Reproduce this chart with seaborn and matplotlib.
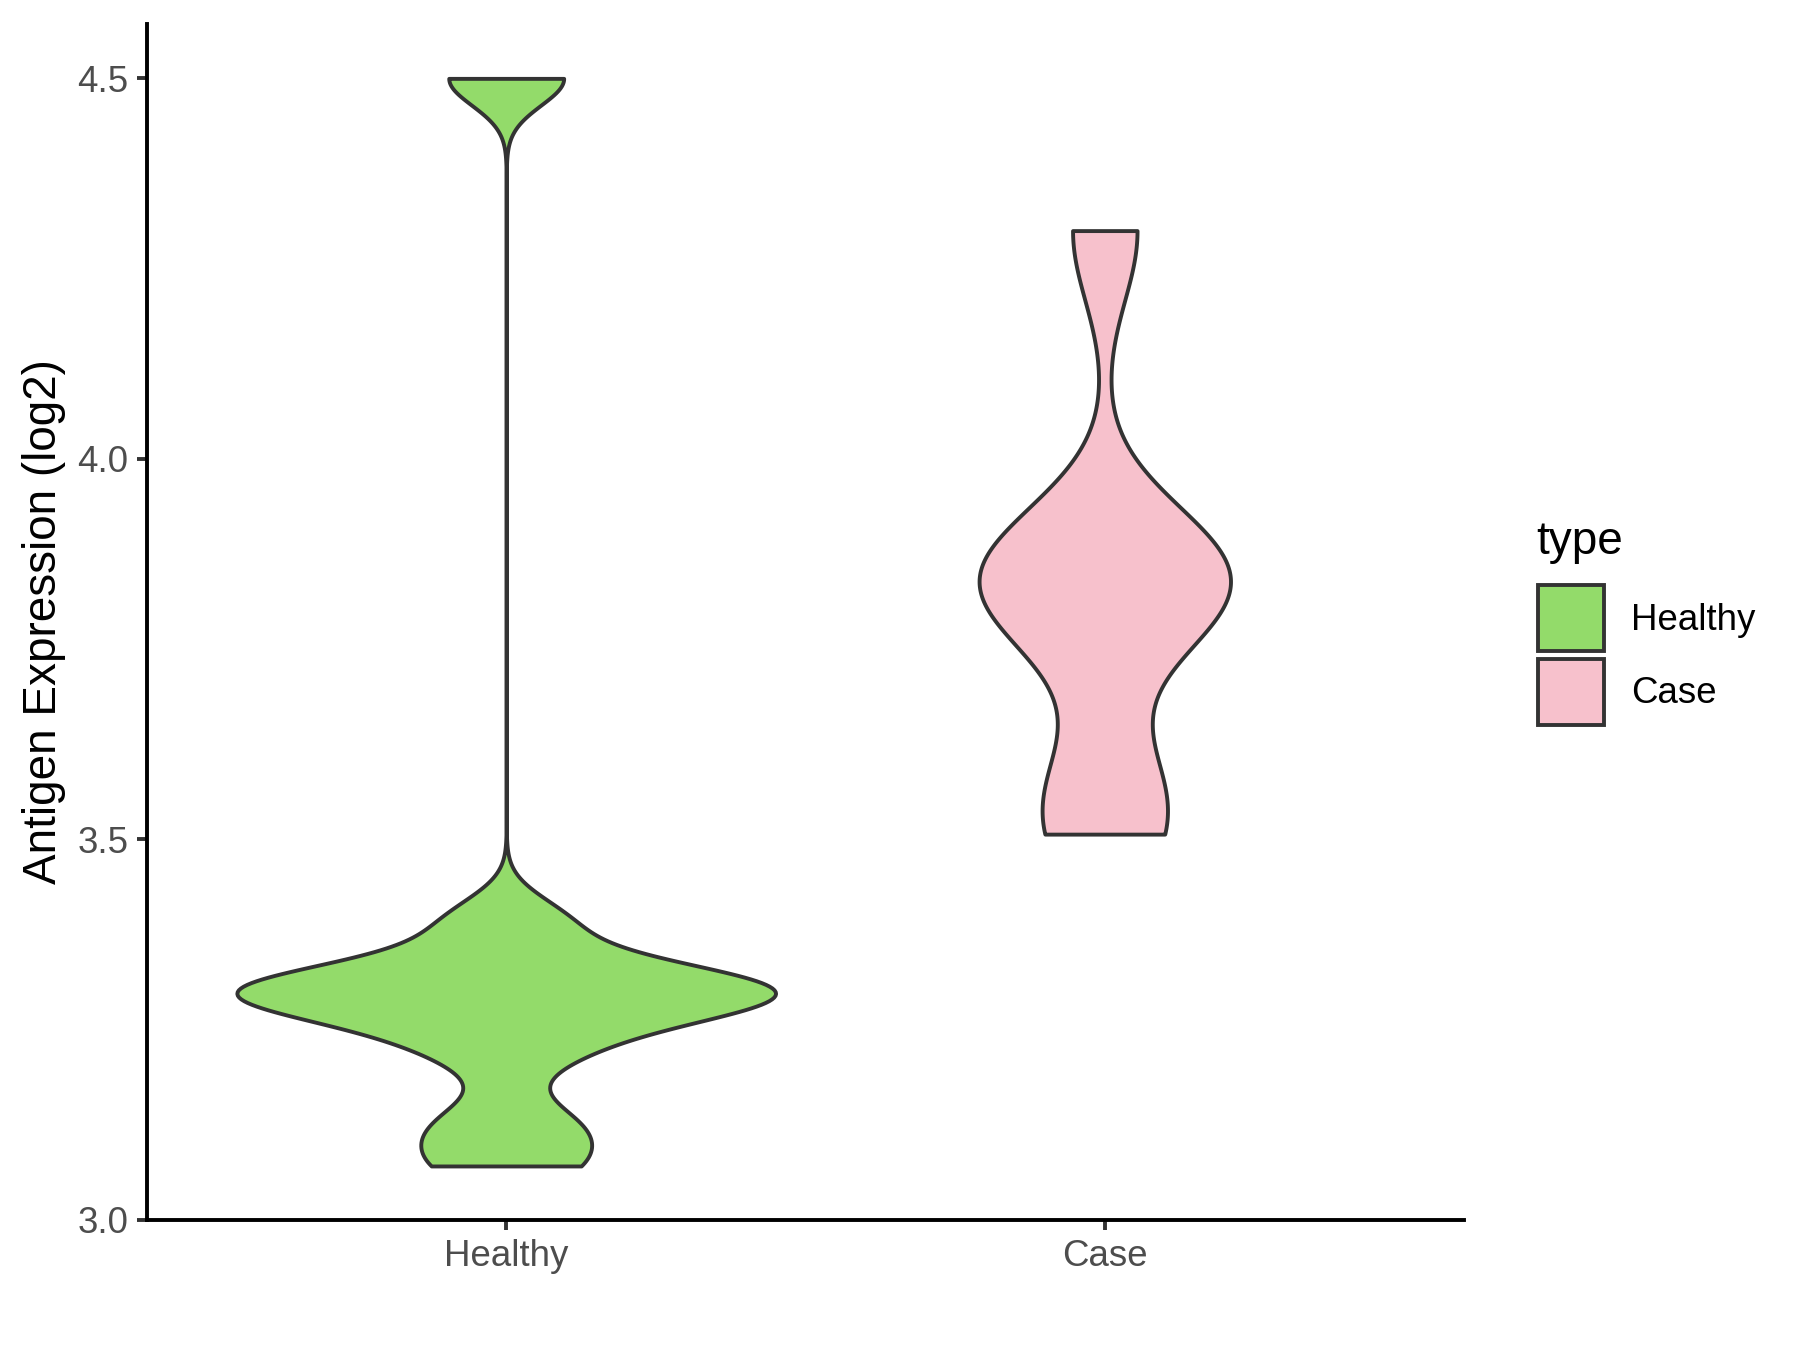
import numpy as np
import pandas as pd
import matplotlib
matplotlib.use("Agg")
import matplotlib.pyplot as plt
import seaborn as sns
from matplotlib.patches import Patch

# ---- data ----
categories = ["Healthy", "Case"]
healthy_values = [3.071, 3.125, 3.225, 3.275, 3.29, 3.30, 3.31, 3.32, 3.39, 4.50]
case_values = [3.507, 3.56, 3.81, 3.83, 3.85, 3.87, 4.30]
yticks = [3.0, 3.5, 4.0, 4.5]
ytick_labels = ["3.0", "3.5", "4.0", "4.5"]

colors = {"Healthy": "#93DB6A", "Case": "#F7C1CC"}
edge = "#333333"

sns.set_theme(style="white")
plt.rcParams["font.family"] = ["Liberation Sans", "DejaVu Sans"]
plt.rcParams["text.color"] = "black"

df = pd.DataFrame({
    "type": ["Healthy"] * len(healthy_values) + ["Case"] * len(case_values),
    "value": healthy_values + case_values,
})

fig = plt.figure(figsize=(18, 13.5), dpi=100)
ax = fig.add_axes([0.0817, 0.0963, 0.7316, 0.8859])

# per-group kernel bandwidth (in data units) and violin width
settings = {"Healthy": (0.035, 0.90), "Case": (0.093, 0.42)}
for cat in categories:
    sub = df[df["type"] == cat]
    bw, w = settings[cat]
    factor = bw / np.std(sub["value"].to_numpy(), ddof=1)
    sns.violinplot(
        data=sub, x="type", y="value", order=categories,
        hue="type", hue_order=categories, palette=colors, saturation=1,
        cut=0, bw_method=factor, gridsize=600, inner=None,
        density_norm="width", width=w, linewidth=2.8, linecolor=edge,
        legend=False, ax=ax,
    )

ax.set_xlim(-0.6, 1.6)
ax.set_ylim(3.0, 4.5714)
ax.set_yticks(yticks)
ax.set_yticklabels(ytick_labels)
ax.set_xlabel("")
ax.set_ylabel("Antigen Expression (log2)", fontsize=33, color="black")
ax.yaxis.set_label_coords(-0.0615, 0.5)

for s in ["top", "right"]:
    ax.spines[s].set_visible(False)
for s in ["left", "bottom"]:
    ax.spines[s].set_color("black")
    ax.spines[s].set_linewidth(2.8)

ax.tick_params(axis="both", which="major", length=7.5, width=2.8, color=edge,
               labelsize=26.4, labelcolor="#4D4D4D", pad=6, left=True, bottom=True)

# legend: title as separate text, keys below
fig.text(0.8533, 0.5986, "type", fontsize=33, color="black", ha="left", va="center")
handles = [Patch(facecolor=colors[c], edgecolor=edge, linewidth=2.8) for c in categories]
fig.legend(handles, categories, loc="upper left",
           bbox_to_anchor=(0.8546, 0.5663), frameon=False,
           fontsize=26.4, labelcolor="black", handlelength=1.8, handleheight=2.38,
           labelspacing=0.22, handletextpad=0.72,
           borderpad=0, borderaxespad=0)

fig.savefig("out.png", dpi=100, facecolor="white")
